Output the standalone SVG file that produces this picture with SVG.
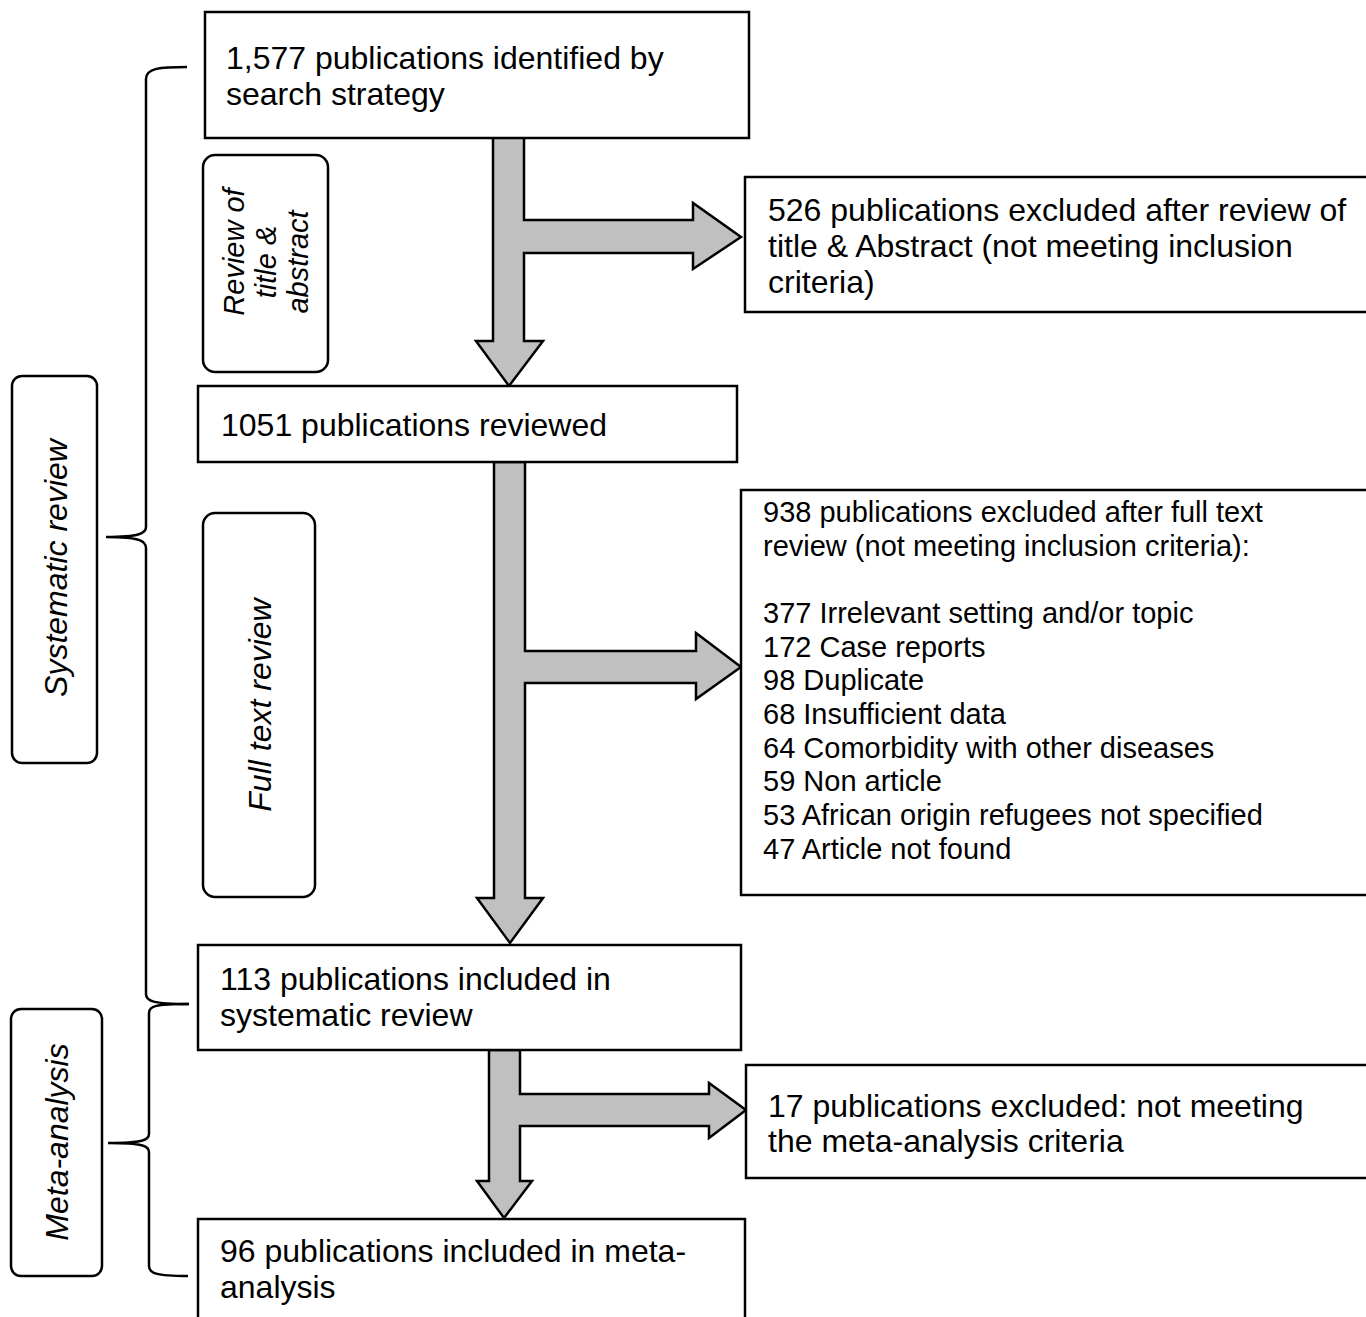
<svg xmlns="http://www.w3.org/2000/svg" width="1366" height="1317" viewBox="0 0 1366 1317">
<style>
.box{fill:#fff;stroke:#000;stroke-width:2.5}
.rbox{fill:#fff;stroke:#000;stroke-width:2.5}
.arrow{fill:#c0c0c0;stroke:#000;stroke-width:2.5;stroke-linejoin:miter}
.brace{fill:none;stroke:#000;stroke-width:2.5}
.t{font-family:"Liberation Sans",Arial,sans-serif;font-size:32px;fill:#000}
.s{font-family:"Liberation Sans",Arial,sans-serif;font-size:29px;fill:#000}
.i{font-family:"Liberation Sans",Arial,sans-serif;font-style:italic;fill:#000;text-anchor:middle}
</style>
<rect width="1366" height="1317" fill="#fff"/>
<g id="connectors">
<path class="arrow" d="M493,137 L524,137 L524,220 L693,220 L693,203 L741,237 L693,269 L693,253 L524,253 L524,341 L543,341 L509,386 L476,341 L493,341 Z"/>
<path class="arrow" d="M494,462 L525,462 L525,651 L696,651 L696,633 L741,667 L696,699 L696,683 L525,683 L525,898 L543,898 L510,943 L477,898 L494,898 Z"/>
<path class="arrow" d="M489,1050 L520,1050 L520,1094 L709,1094 L709,1083 L746,1110 L709,1138 L709,1126 L520,1126 L520,1181 L532,1181 L504,1218 L477,1181 L489,1181 Z"/>
</g>
<g id="brace-systematic">
<path class="brace" d="M187,67 C160,67 146,68 146,79 L146,527 C146,533 140,537 106,537 C140,537 146,541 146,548 L146,994 C146,1001 152,1004 189,1004"/>
</g>
<g id="brace-meta">
<path class="brace" d="M189,1004 C155,1004 149,1006 149,1013 L149,1134 C149,1140 143,1143 108,1143 C143,1143 149,1146 149,1152 L149,1266 C149,1273 155,1276 188,1276"/>
</g>
<g id="n1">
<rect class="box" x="205" y="12" width="544" height="126"/>
<text class="t" x="226" y="69">1,577 publications identified by</text>
<text class="t" x="226" y="105">search strategy</text>
</g>
<g id="label-review">
<rect class="rbox" x="203" y="155" width="125" height="217" rx="12"/>
<text class="i" font-size="29" transform="translate(244,252) rotate(-90)">Review of</text>
<text class="i" font-size="29" transform="translate(276,262) rotate(-90)">title &amp;</text>
<text class="i" font-size="29" transform="translate(308,262) rotate(-90)">abstract</text>
</g>
<g id="n2">
<rect class="box" x="745" y="177" width="640" height="135"/>
<text class="t" x="768" y="221">526 publications excluded after review of</text>
<text class="t" x="768" y="257">title &amp; Abstract (not meeting inclusion</text>
<text class="t" x="768" y="293">criteria)</text>
</g>
<g id="n3">
<rect class="box" x="198" y="386" width="539" height="76"/>
<text class="t" x="221" y="436">1051 publications reviewed</text>
</g>
<g id="label-fulltext">
<rect class="rbox" x="203" y="513" width="112" height="384" rx="12"/>
<text class="i" font-size="32" transform="translate(271,705) rotate(-90)">Full text review</text>
</g>
<g id="n4">
<rect class="box" x="741" y="490" width="640" height="405"/>
<text class="s" x="763" y="522">938 publications excluded after full text</text>
<text class="s" x="763" y="556">review (not meeting inclusion criteria):</text>
<text class="s" x="763" y="623">377 Irrelevant setting and/or topic</text>
<text class="s" x="763" y="657">172 Case reports</text>
<text class="s" x="763" y="690">98 Duplicate</text>
<text class="s" x="763" y="724">68 Insufficient data</text>
<text class="s" x="763" y="758">64 Comorbidity with other diseases</text>
<text class="s" x="763" y="791">59 Non article</text>
<text class="s" x="763" y="825">53 African origin refugees not specified</text>
<text class="s" x="763" y="859">47 Article not found</text>
</g>
<g id="label-systematic">
<rect class="rbox" x="12" y="376" width="85" height="387" rx="10"/>
<text class="i" font-size="32" transform="translate(67,568) rotate(-90)">Systematic review</text>
</g>
<g id="n5">
<rect class="box" x="198" y="945" width="543" height="105"/>
<text class="t" x="220" y="990">113 publications included in</text>
<text class="t" x="220" y="1026">systematic review</text>
</g>
<g id="n6">
<rect class="box" x="746" y="1065" width="640" height="113"/>
<text class="t" x="768" y="1117">17 publications excluded: not meeting</text>
<text class="t" x="768" y="1152">the meta-analysis criteria</text>
</g>
<g id="label-meta">
<rect class="rbox" x="11" y="1009" width="91" height="267" rx="10"/>
<text class="i" font-size="32" transform="translate(68,1142) rotate(-90)">Meta-analysis</text>
</g>
<g id="n7">
<rect class="box" x="198" y="1219" width="547" height="120"/>
<text class="t" x="220" y="1262">96 publications included in meta-</text>
<text class="t" x="220" y="1298">analysis</text>
</g>
</svg>
